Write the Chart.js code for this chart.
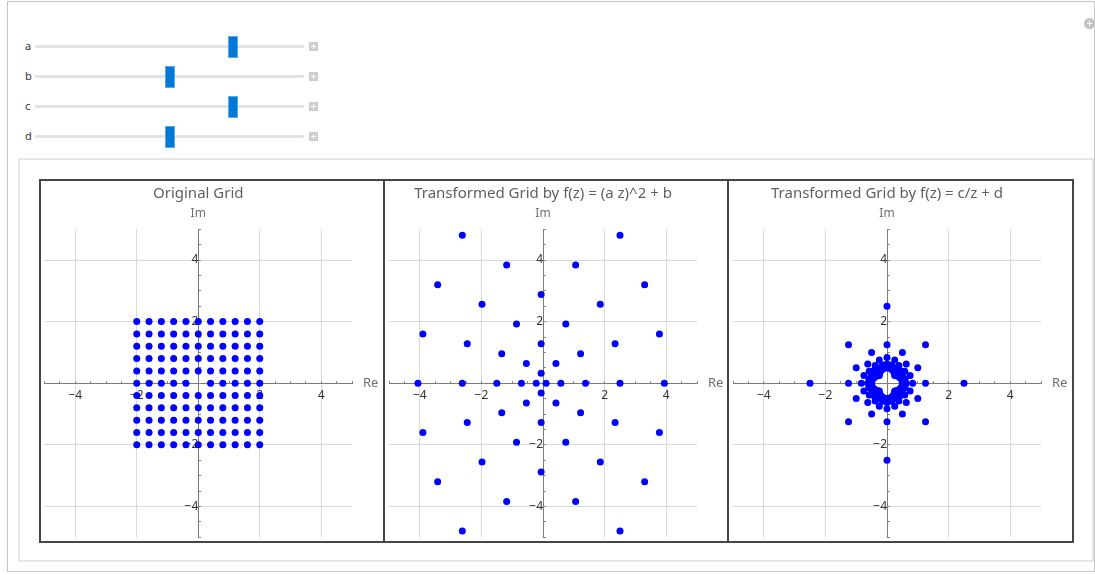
<!DOCTYPE html>
<html>
<head>
<meta charset="utf-8">
<script src="https://cdn.jsdelivr.net/npm/chart.js@4.4.1/dist/chart.umd.min.js"></script>
<style>
  body { margin: 0; width: 1095px; height: 575px; background: #fff; position: relative; overflow: hidden; font-family: "Noto Sans", sans-serif; }
  #outer { position: absolute; left: 7px; top: 1px; width: 1086px; height: 569px; border: 1px solid #c6c6c6; }
  #content { position: absolute; left: 18px; top: 158px; width: 1072px; height: 400px; border: 2px solid #e5e5e5; }
  #frame { position: absolute; left: 39px; top: 179px; width: 1031px; height: 360px; border: 2px solid #454545; }
  .panel { position: absolute; top: 0; height: 360px; }
  .divider { position: absolute; top: 0; width: 2px; height: 360px; background: #454545; }
  .slider-label { position: absolute; left: 25px; font-size: 11px; color: #333; line-height: 12px; }
  .track { position: absolute; left: 35px; width: 269px; height: 3px; background: #e2e2e2; border-radius: 1px; }
  .handle { position: absolute; width: 8px; height: 20px; background: #0078d7; border: 1px solid #5ea8e8; }
  .plus { position: absolute; left: 309px; width: 9px; height: 9px; background: #cdcdcd; }
  .plus::before, .plus::after { content: ''; position: absolute; background: #fff; }
  .plus::before { left: 2px; top: 4px; width: 5px; height: 1px; }
  .plus::after { left: 4px; top: 2px; width: 1px; height: 5px; }
  #corner { position: absolute; left: 1084px; top: 18px; width: 11px; height: 11px; border-radius: 50%; background: #c2c2c2; }
  #corner::before, #corner::after { content: ''; position: absolute; background: #fff; }
  #corner::before { left: 3px; top: 5px; width: 5px; height: 1px; }
  #corner::after { left: 5px; top: 3px; width: 1px; height: 5px; }
</style>
</head>
<body>
<div id="outer"></div>
<div id="corner"></div>
<div id="sliders"></div>
<div id="content"></div>
<div id="frame">
  <div class="panel" style="left:0;width:342px"><canvas id="chart-grid" width="342" height="360"></canvas></div>
  <div class="divider" style="left:342px"></div>
  <div class="panel" style="left:344px;width:342px"><canvas id="chart-square" width="342" height="360"></canvas></div>
  <div class="divider" style="left:686px"></div>
  <div class="panel" style="left:688px;width:343px"><canvas id="chart-inverse" width="343" height="360"></canvas></div>
</div>
<script>
// slider parameters (range -2..2)
const paramNames = ['a', 'b', 'c', 'd'];
const paramValues = [0.98, 0, 0.98, 0];
const paramMin = -2;
const paramMax = 2;

// original grid z = x + iy, origin left out
const gridRe = [-2, -1.6, -1.2, -0.8, -0.4, 0, 0.4, 0.8, 1.2, 1.6, 2];
const gridIm = [2, 1.6, 1.2, 0.8, 0.4, 0, -0.4, -0.8, -1.2, -1.6, -2];

// f(z) = (a z)^2 + b
const squarePts = [
  [-4.06, 0], [-2.62, 0], [-1.5, 0], [-0.7, 0], [-0.22, 0], [0.1, 0], [0.58, 0], [1.38, 0], [2.5, 0], [3.94, 0],
  [-0.06, 0.32], [-0.54, 0.64], [0.42, 0.64], [-1.34, 0.96], [1.22, 0.96], [-2.46, 1.28], [-0.06, 1.28], [2.34, 1.28],
  [-3.9, 1.6], [3.78, 1.6], [-0.86, 1.92], [0.74, 1.92], [-1.98, 2.56], [1.86, 2.56], [-0.06, 2.88],
  [-3.42, 3.2], [3.3, 3.2], [-1.18, 3.84], [1.06, 3.84], [-2.62, 4.8], [2.5, 4.8],
  [-0.06, -0.32], [-0.54, -0.64], [0.42, -0.64], [-1.34, -0.96], [1.22, -0.96], [-2.46, -1.28], [-0.06, -1.28], [2.34, -1.28],
  [-3.9, -1.6], [3.78, -1.6], [-0.86, -1.92], [0.74, -1.92], [-1.98, -2.56], [1.86, -2.56], [-0.06, -2.88],
  [-3.42, -3.2], [3.3, -3.2], [-1.18, -3.84], [1.06, -3.84], [-2.62, -4.8], [2.5, -4.8]
];

// f(z) = c/z + d
const inversePts = [
  [2.5, 0], [1.25, 0], [0.833, 0], [0.625, 0], [0.5, 0],
  [-2.5, 0], [-1.25, 0], [-0.833, 0], [-0.625, 0], [-0.5, 0],
  [0, 2.5], [0, 1.25], [0, 0.833], [0, 0.625], [0, 0.5],
  [0, -2.5], [0, -1.25], [0, -0.833], [0, -0.625], [0, -0.5],
  [1.25, 1.25], [0.5, 1], [1, 0.5], [0.25, 0.75], [0.75, 0.25], [0.147, 0.588], [0.588, 0.147], [0.096, 0.481], [0.481, 0.096],
  [0.625, 0.625], [0.385, 0.577], [0.577, 0.385], [0.25, 0.5], [0.5, 0.25], [0.172, 0.431], [0.431, 0.172], [0.417, 0.417],
  [0.3, 0.4], [0.4, 0.3], [0.221, 0.368], [0.368, 0.221], [0.313, 0.313], [0.244, 0.305], [0.305, 0.244], [0.25, 0.25],
  [-1.25, 1.25], [-0.5, 1], [-1, 0.5], [-0.25, 0.75], [-0.75, 0.25], [-0.147, 0.588], [-0.588, 0.147], [-0.096, 0.481], [-0.481, 0.096],
  [-0.625, 0.625], [-0.385, 0.577], [-0.577, 0.385], [-0.25, 0.5], [-0.5, 0.25], [-0.172, 0.431], [-0.431, 0.172], [-0.417, 0.417],
  [-0.3, 0.4], [-0.4, 0.3], [-0.221, 0.368], [-0.368, 0.221], [-0.313, 0.313], [-0.244, 0.305], [-0.305, 0.244], [-0.25, 0.25],
  [-1.25, -1.25], [-0.5, -1], [-1, -0.5], [-0.25, -0.75], [-0.75, -0.25], [-0.147, -0.588], [-0.588, -0.147], [-0.096, -0.481], [-0.481, -0.096],
  [-0.625, -0.625], [-0.385, -0.577], [-0.577, -0.385], [-0.25, -0.5], [-0.5, -0.25], [-0.172, -0.431], [-0.431, -0.172], [-0.417, -0.417],
  [-0.3, -0.4], [-0.4, -0.3], [-0.221, -0.368], [-0.368, -0.221], [-0.313, -0.313], [-0.244, -0.305], [-0.305, -0.244], [-0.25, -0.25],
  [1.25, -1.25], [0.5, -1], [1, -0.5], [0.25, -0.75], [0.75, -0.25], [0.147, -0.588], [0.588, -0.147], [0.096, -0.481], [0.481, -0.096],
  [0.625, -0.625], [0.385, -0.577], [0.577, -0.385], [0.25, -0.5], [0.5, -0.25], [0.172, -0.431], [0.431, -0.172], [0.417, -0.417],
  [0.3, -0.4], [0.4, -0.3], [0.221, -0.368], [0.368, -0.221], [0.313, -0.313], [0.244, -0.305], [0.305, -0.244], [0.25, -0.25]
];

const panelTitles = ['Original Grid', 'Transformed Grid by f(z) = (a z)^2 + b', 'Transformed Grid by f(z) = c/z + d'];
const axisRange = [-5, 5];
const labelledTicks = [-4, -2, 2, 4];

const FONT = '"Noto Sans", sans-serif';

function renderSliders() {
  const host = document.getElementById('sliders');
  const trackLeft = 35;
  const travel = 269 - 10;
  host.innerHTML = paramNames
    .map((name, i) => {
      const cy = 46.5 + i * 30;
      const left = trackLeft + ((paramValues[i] - paramMin) / (paramMax - paramMin)) * travel;
      return `
      <div class="slider-label" style="top:${cy - 7}px">${name}</div>
      <div class="track" style="top:${cy - 1.5}px"></div>
      <div class="handle" style="left:${left}px;top:${cy - 11}px"></div>
      <div class="plus" style="top:${cy - 4.5}px"></div>`;
    })
    .join('');
}

function tickText(v) {
  if (!labelledTicks.includes(v)) return '';
  return v < 0 ? '\u2212' + Math.abs(v) : String(v);
}

function axis(other) {
  return {
    type: 'linear',
    min: axisRange[0],
    max: axisRange[1],
    position: { [other]: 0 },
    afterFit(scale) {
      scale.paddingTop = 0;
      scale.paddingBottom = 0;
      scale.paddingLeft = 0;
      scale.paddingRight = 0;
    },
    ticks: {
      stepSize: 0.5,
      autoSkip: false,
      maxRotation: 0,
      padding: other === 'y' ? 8 : 9,
      color: '#333',
      font: { family: FONT, size: 12 },
      callback: tickText
    },
    grid: {
      color: (ctx) => (ctx.tick && labelledTicks.includes(ctx.tick.value) ? '#dadada' : 'rgba(0,0,0,0)'),
      tickColor: '#888',
      tickLength: -3,
      lineWidth: 1
    },
    border: { display: true, color: '#7a7a7a', width: 1 }
  };
}

const reLabel = {
  id: 'reLabel',
  afterDraw(chart) {
    const { ctx, chartArea, scales } = chart;
    ctx.save();
    ctx.font = `13px ${FONT}`;
    ctx.fillStyle = '#707070';
    ctx.textBaseline = 'middle';
    ctx.fillText('Re', chartArea.right + 11, scales.y.getPixelForValue(0));
    ctx.restore();
  }
};

function makeChart(id, title, points, width, padLeft) {
  return new Chart(document.getElementById(id), {
    type: 'scatter',
    data: {
      datasets: [
        {
          data: points.map(([x, y]) => ({ x, y })),
          backgroundColor: '#0000ff',
          borderWidth: 0,
          pointRadius: 3.5,
          pointHoverRadius: 3.5
        }
      ]
    },
    options: {
      responsive: false,
      animation: false,
      devicePixelRatio: 1,
      layout: { padding: { left: padLeft, right: width - padLeft - 308, top: 4, bottom: 3.8 } },
      plugins: {
        legend: { display: false },
        tooltip: { enabled: false },
        title: {
          display: true,
          text: title,
          fullSize: false,
          color: '#5f5f5f',
          font: { family: FONT, size: 15, weight: 'normal', lineHeight: 1.2 },
          padding: { top: 0, bottom: 3.2 }
        },
        subtitle: {
          display: true,
          text: 'Im',
          fullSize: false,
          color: '#707070',
          font: { family: FONT, size: 12, lineHeight: 1.2 },
          padding: { top: 0, bottom: 8.6 }
        }
      },
      scales: { x: axis('y'), y: axis('x') }
    },
    plugins: [reLabel]
  });
}

(function init() {
  renderSliders();

  const gridPts = [];
  gridIm.forEach((im) => {
    gridRe.forEach((re) => {
      if (re !== 0 || im !== 0) gridPts.push([re, im]);
    });
  });

  makeChart('chart-grid', panelTitles[0], gridPts, 342, 3);
  makeChart('chart-square', panelTitles[1], squarePts, 342, 4);
  makeChart('chart-inverse', panelTitles[2], inversePts, 343, 4);
})();
</script>
</body>
</html>
